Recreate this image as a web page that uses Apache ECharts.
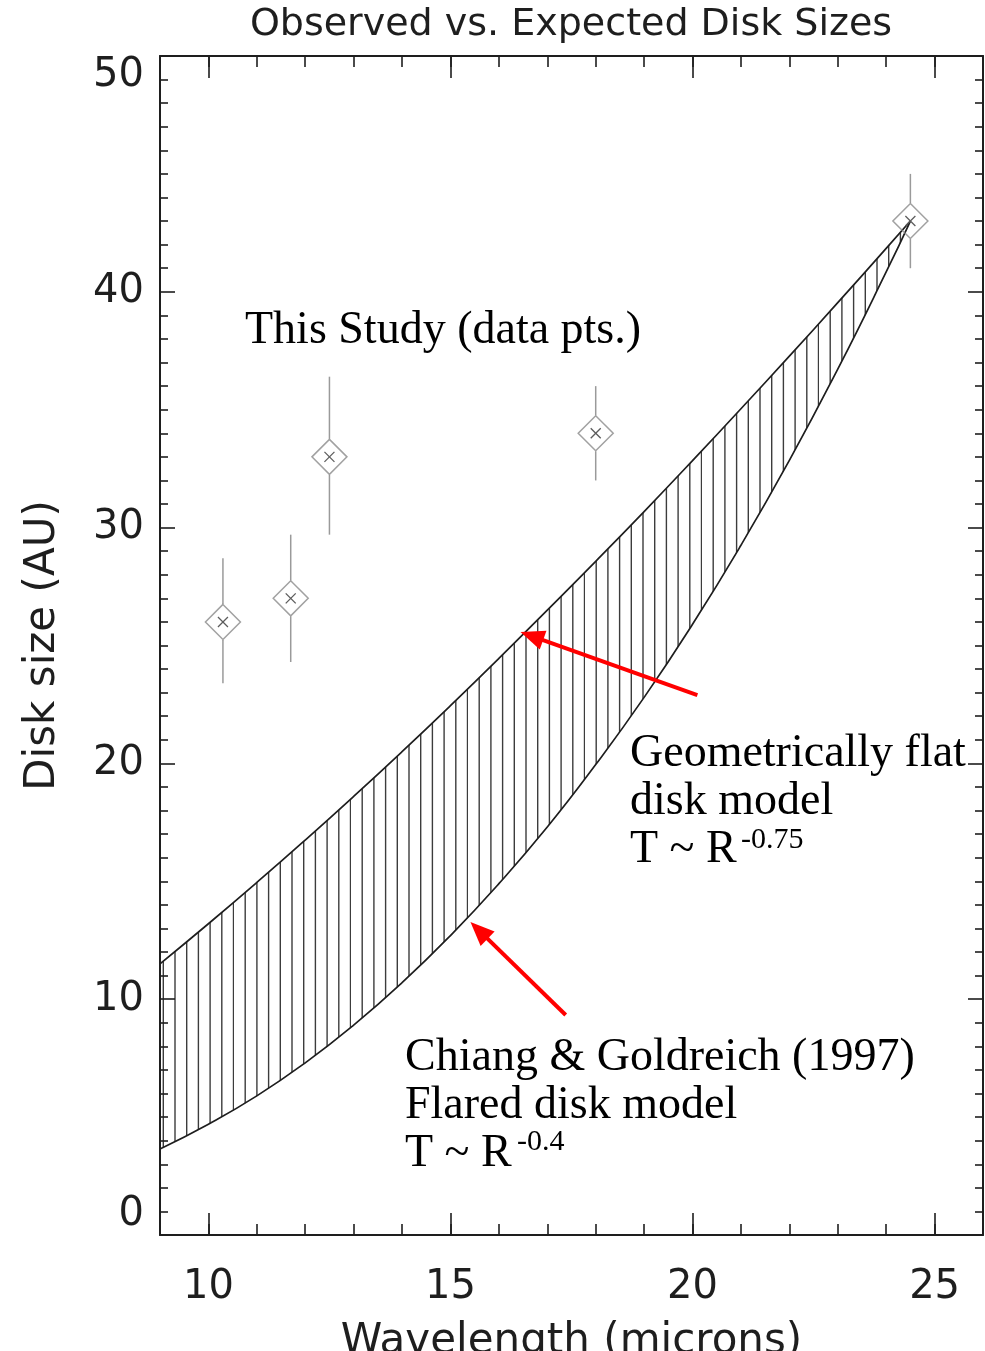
<!DOCTYPE html>
<html>
<head>
<meta charset="utf-8">
<title>Observed vs. Expected Disk Sizes</title>
<script src="https://cdn.jsdelivr.net/npm/echarts@6/dist/echarts.min.js"></script>
<style>
  html, body { margin: 0; padding: 0; background: #fff; }
  #chart { width: 985px; height: 1351px; }
</style>
</head>
<body>
<div id="chart"></div>
<script>
// wavelength grid (microns) at which the two model curves were read
var waveGrid = [9, 10, 11, 12, 13, 14, 15, 16, 17, 18, 19, 20, 21, 22, 23, 24, 24.5];
// geometrically flat disk model, T ~ R^-0.75 (upper curve)
var flatDisk = [11.5, 13.2, 14.95, 16.75, 18.6, 20.5, 22.45, 24.45, 26.5, 28.57, 30.68, 32.84, 35.04, 37.27, 39.54, 41.84, 43.0];
// Chiang & Goldreich flared disk model, T ~ R^-0.4 (lower curve)
var flaredDisk = [3.65, 4.7, 5.9, 7.3, 8.9, 10.7, 12.7, 14.9, 17.3, 19.95, 22.8, 25.9, 29.25, 32.85, 36.72, 40.84, 43.0];

// observed points
var obsWave = [10.3, 11.7, 12.5, 18.0, 24.5];
var obsSize = [26.0, 27.0, 33.0, 34.0, 43.0];
var obsLow = [23.4, 24.3, 29.7, 32.0, 41.0];
var obsHigh = [28.7, 29.7, 36.4, 36.0, 45.0];

// ticks
var xMajor = [10, 15, 20, 25];
var xMinor = [10, 11, 12, 13, 14, 15, 16, 17, 18, 19, 20, 21, 22, 23, 24, 25];

var ink = '#1e1e1e';
var sans = 'DejaVu Sans';

// vertical hatching for the band between the models
var hatch = document.createElement('canvas');
hatch.width = 117;
hatch.height = 8;
var hctx = hatch.getContext('2d');
hctx.strokeStyle = '#3c3c3c';
hctx.lineWidth = 1.4;
for (var i = 0; i < 10; i++) {
  var px = 11.2 + i * 11.7;
  hctx.beginPath();
  hctx.moveTo(px, 0);
  hctx.lineTo(px, 8);
  hctx.stroke();
}

var flatData = waveGrid.map(function (w, i) { return [w, flatDisk[i]]; });
var flaredData = waveGrid.map(function (w, i) { return [w, flaredDisk[i]]; });
var obsData = obsWave.map(function (w, i) { return [w, obsSize[i]]; });
var errData = obsWave.map(function (w, i) { return [w, obsLow[i], obsHigh[i], obsSize[i]]; });

function xAxisOf(pos, ticks, len, showLine, withLabel) {
  return {
    type: 'value', min: 9, max: 26, position: pos, z: 10,
    axisLine: { show: showLine, onZero: false, lineStyle: { color: ink, width: 2 } },
    axisTick: { show: true, inside: true, length: len, customValues: ticks,
      lineStyle: { color: ink, width: 1.6 } },
    axisLabel: withLabel ? { show: true, customValues: xMajor, margin: 33,
      fontFamily: sans, fontSize: 40, color: ink } : { show: false },
    splitLine: { show: false }
  };
}

function yAxisOf(pos, withLabel) {
  return {
    type: 'value', min: 0, max: 50, interval: 10, position: pos, z: 10,
    axisLine: { show: true, onZero: false, lineStyle: { color: ink, width: 2 } },
    axisTick: { show: true, inside: true, length: 15, lineStyle: { color: ink, width: 1.6 } },
    minorTick: { show: true, splitNumber: 10, length: 8, lineStyle: { color: ink, width: 1.6 } },
    axisLabel: withLabel ? { show: true, margin: 16, fontFamily: sans, fontSize: 40, color: ink,
      verticalAlignMinLabel: 'bottom', verticalAlignMaxLabel: 'top' } : { show: false },
    splitLine: { show: false }
  };
}

var xAxes = [
  xAxisOf('bottom', xMajor, 22, true, true),
  xAxisOf('bottom', xMinor, 11, false, false),
  xAxisOf('top', xMajor, 22, true, false),
  xAxisOf('top', xMinor, 11, false, false)
];
xAxes[0].name = 'Wavelength (microns)';
xAxes[0].nameLocation = 'middle';
xAxes[0].nameGap = 86;
xAxes[0].nameTextStyle = { fontFamily: sans, fontSize: 42, color: ink };

var yAxes = [yAxisOf('left', true), yAxisOf('right', false)];
yAxes[0].name = 'Disk size (AU)';
yAxes[0].nameLocation = 'middle';
yAxes[0].nameGap = 96;
yAxes[0].nameTextStyle = { fontFamily: sans, fontSize: 42, color: ink };

var option = {
  animation: false,
  backgroundColor: '#fff',
  grid: { left: 160, right: 2, top: 56, bottom: 116, containLabel: false, outerBoundsMode: 'none' },
  xAxis: xAxes,
  yAxis: yAxes,
  graphic: [
    { type: 'text', x: 571, y: 25, silent: true, z: 100,
      style: { text: 'Observed vs. Expected Disk Sizes', fill: ink, font: '38px "DejaVu Sans"',
        align: 'center', verticalAlign: 'middle' } },
    { type: 'text', x: 245, y: 331, silent: true, z: 100,
      style: { text: 'This Study (data pts.)', fill: '#000', font: '46px "Liberation Serif"',
        align: 'left', verticalAlign: 'middle' } },
    { type: 'text', x: 630, y: 730, silent: true, z: 100,
      style: { text: 'Geometrically flat\ndisk model\nT ~ R', fill: '#000', font: '46px "Liberation Serif"',
        lineHeight: 48, align: 'left', verticalAlign: 'top' } },
    { type: 'text', x: 741, y: 840, silent: true, z: 100,
      style: { text: '-0.75', fill: '#000', font: '30px "Liberation Serif"',
        align: 'left', verticalAlign: 'middle' } },
    { type: 'text', x: 405, y: 1034, silent: true, z: 100,
      style: { text: 'Chiang & Goldreich (1997)\nFlared disk model\nT ~ R', fill: '#000', font: '46px "Liberation Serif"',
        lineHeight: 48, align: 'left', verticalAlign: 'top' } },
    { type: 'text', x: 517, y: 1142, silent: true, z: 100,
      style: { text: '-0.4', fill: '#000', font: '30px "Liberation Serif"',
        align: 'left', verticalAlign: 'middle' } }
  ],
  series: [
    {
      // hatched from the flat-disk curve down; the flared series masks below itself
      name: 'Geometrically flat disk model', type: 'line', data: flatData,
      smooth: true, symbol: 'none', z: 2,
      lineStyle: { color: ink, width: 1.7 },
      areaStyle: { color: { image: hatch, repeat: 'repeat' }, opacity: 1, origin: 'start' }
    },
    {
      name: 'Flared disk model', type: 'line', data: flaredData,
      smooth: true, symbol: 'none', z: 3,
      lineStyle: { color: ink, width: 1.7 },
      areaStyle: { color: '#ffffff', opacity: 1, origin: 'start' }
    },
    {
      name: 'error bars', type: 'custom', data: errData, z: 4,
      encode: { x: 0, y: [1, 2, 3] },
      renderItem: function (params, api) {
        var x = api.value(0);
        var lo = api.coord([x, api.value(1)]);
        var hi = api.coord([x, api.value(2)]);
        var c = api.coord([x, api.value(3)]);
        var half = 18, arm = 5;
        var bar = { stroke: '#9a9a9a', lineWidth: 1.5 };
        var cross = { stroke: '#5c5c5c', lineWidth: 1.3 };
        return {
          type: 'group',
          children: [
            { type: 'line', shape: { x1: hi[0], y1: hi[1], x2: c[0], y2: c[1] - half }, style: bar },
            { type: 'line', shape: { x1: c[0], y1: c[1] + half, x2: lo[0], y2: lo[1] }, style: bar },
            { type: 'line', shape: { x1: c[0] - arm, y1: c[1] - arm, x2: c[0] + arm, y2: c[1] + arm }, style: cross },
            { type: 'line', shape: { x1: c[0] - arm, y1: c[1] + arm, x2: c[0] + arm, y2: c[1] - arm }, style: cross }
          ]
        };
      }
    },
    {
      name: 'This Study', type: 'scatter', data: obsData, z: 5,
      symbol: 'diamond', symbolSize: 35,
      itemStyle: { color: 'rgba(255,255,255,0)', borderColor: '#8a8a8a', borderWidth: 1.5 },
      markLine: {
        silent: true, animation: false,
        symbol: ['none', 'triangle'], symbolSize: [20, 24],
        label: { show: false },
        lineStyle: { color: '#ff0000', width: 4, type: 'solid' },
        data: [
          [{ coord: [20.1, 22.9] }, { coord: [16.68, 25.4] }],
          [{ coord: [17.38, 9.33] }, { coord: [15.59, 12.92] }]
        ]
      }
    }
  ]
};

var myChart = echarts.init(document.getElementById('chart'));
myChart.setOption(option);
</script>
</body>
</html>
